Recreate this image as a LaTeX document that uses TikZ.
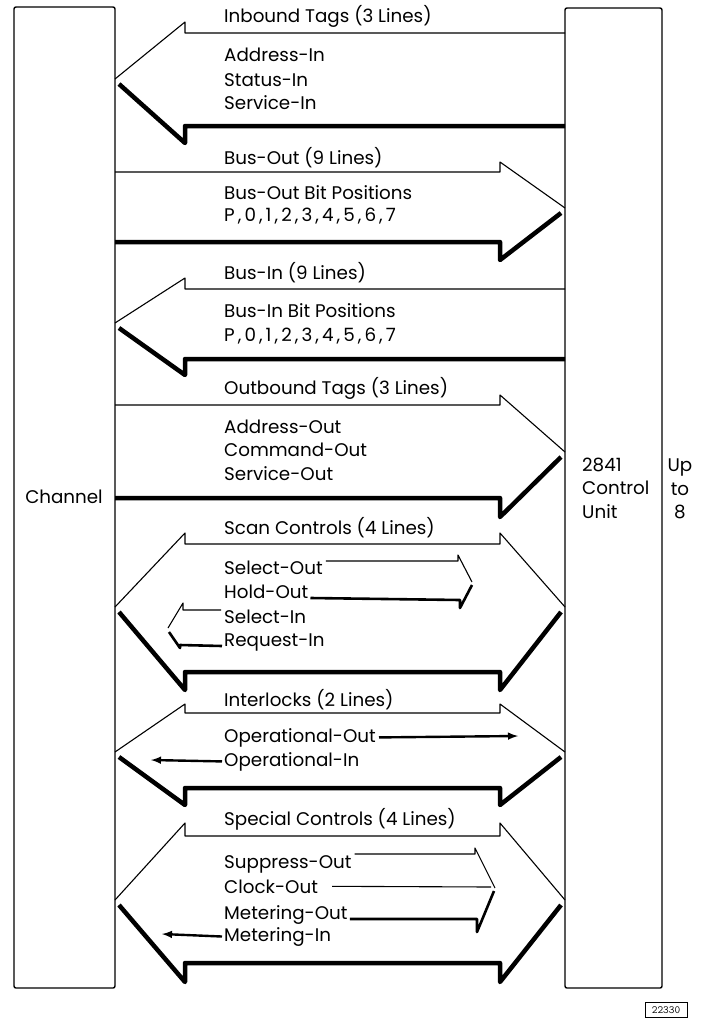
\documentclass[tikz,border=0pt]{standalone}
\usepackage{fontspec}
\setmainfont{Poppins}
\usepackage{tikz}
\usetikzlibrary{arrows}

\begin{document}
\begin{tikzpicture}[x=1pt, y=-1pt, font=\fontsize{18.3}{23.5}\selectfont,
  txt/.style={anchor=base west, inner sep=0pt},
  outline/.style={line width=1.1pt, line join=round},
  shadow/.style={line width=4.5pt, line join=round},
  inshadow/.style={line width=2.6pt, line join=round}]

\useasboundingbox (0,0) rectangle (703,1020);

\pgfmathsetmacro{\xL}{115}
\pgfmathsetmacro{\xLb}{185}
\pgfmathsetmacro{\xRb}{500}
\pgfmathsetmacro{\xR}{565}
\pgfmathsetmacro{\xT}{224}

% Draw channel and control unit boxes
\draw[line width=1.4pt, rounded corners=2pt] (14,7) rectangle (\xL,988);
\draw[line width=1.4pt, rounded corners=2pt] (\xR,8) rectangle (662,988);
\node[anchor=base] (chan) at (64,503) {Channel};
\node[anchor=west, align=left, inner sep=0pt] (cu) at (582,488) {2841\\Control\\Unit};
\node[align=center, inner sep=0pt] (upto) at (680,489) {Up\\to\\8};

% Inbound tags
\draw[outline] (\xR,33) -- (\xLb,33) -- (\xLb,22) -- (\xL,79);
\draw[shadow] (\xL+4,84) -- (\xLb,143) -- (\xLb,126) -- (\xR,126);
\node[txt] (inb) at (\xT,22) {Inbound Tags (3 Lines)};
\node[txt] (adrin) at (\xT,61) {Address-In};
\node[txt] (statin) at (\xT,86) {Status-In};
\node[txt] (servin) at (\xT,109) {Service-In};

% Bus-out
\draw[outline] (\xL,172) -- (\xRb,172) -- (\xRb,162) -- (\xR,208);
\draw[shadow] (\xR-4,213) -- (\xRb,260) -- (\xRb,242) -- (\xL,242);
\node[txt] (bout) at (\xT,164) {Bus-Out (9 Lines)};
\node[txt] (boutbits) at (\xT,199) {Bus-Out Bit Positions};
\node[txt] (boutpos) at (\xT,221) {P\,,\,0\,,\,1\,,\,2\,,\,3\,,\,4\,,\,5\,,\,6\,,\,7};

% Bus-in
\draw[outline] (\xR,289) -- (\xLb,289) -- (\xLb,278) -- (\xL,323);
\draw[shadow] (\xL+4,328) -- (\xLb,375) -- (\xLb,359) -- (\xR,359);
\node[txt] (bin) at (\xT,279) {Bus-In (9 Lines)};
\node[txt] (binbits) at (\xT,317) {Bus-In Bit Positions};
\node[txt] (binpos) at (\xT,341) {P\,,\,0\,,\,1\,,\,2\,,\,3\,,\,4\,,\,5\,,\,6\,,\,7};

% Outbound tags
\draw[outline] (\xL,405) -- (\xRb,405) -- (\xRb,395) -- (\xR,452);
\draw[shadow] (\xR-4,457) -- (\xRb,517) -- (\xRb,498) -- (\xL,498);
\node[txt] (outb) at (\xT,394) {Outbound Tags (3 Lines)};
\node[txt] (adrout) at (\xT,433) {Address-Out};
\node[txt] (cmdout) at (\xT,456) {Command-Out};
\node[txt] (servout) at (\xT,480) {Service-Out};

% Scan controls
\draw[outline] (\xL,607) -- (\xLb,533) -- (\xLb,544) -- (\xRb,544) -- (\xRb,533) -- (\xR,607);
\draw[shadow] (\xL+4,612) -- (\xLb,690) -- (\xLb,672) -- (\xRb,672) -- (\xRb,690) -- (\xR-4,612);
\node[txt] (scan) at (\xT,534) {Scan Controls (4 Lines)};
\node[txt] (sout) at (\xT,574) {Select-Out};
\node[txt] (hout) at (\xT,598) {Hold-Out};
\node[txt] (sin) at (\xT,623) {Select-In};
\node[txt] (rin) at (\xT,646) {Request-In};
\draw[outline] ([xshift=3pt]sout.east |- 0,561) -- (458,561) -- (458,555) -- (472,582);
\draw[inshadow] (472,585) -- (460,608) -- (460,600) -- ([xshift=2pt]hout.base east);
\draw[outline] ([xshift=-3pt]sin.west |- 0,610) -- (183,610) -- (183,603) -- (168,628);
\draw[inshadow] (169,632) -- (180,648) -- (180,645) -- ([xshift=-2pt]rin.base west);

% Interlocks
\draw[outline] (\xL,752) -- (\xLb,704) -- (\xLb,713) -- (\xRb,713) -- (\xRb,704) -- (\xR,752);
\draw[shadow] (\xL+4,757) -- (\xLb,805) -- (\xLb,788) -- (\xRb,788) -- (\xRb,805) -- (\xR-4,757);
\node[txt] (lock) at (\xT,706) {Interlocks (2 Lines)};
\node[txt] (opout) at (\xT,742) {Operational-Out};
\node[txt] (opin) at (\xT,766) {Operational-In};
\draw[->,>=latex, line width=2.4pt] ([xshift=3pt]opout.east) -- (518,736);
\draw[->,>=latex, line width=2.4pt] ([xshift=-2pt]opin.west) -- (151,760);

% Special controls
\draw[outline] (\xL,900) -- (\xLb,823) -- (\xLb,836) -- (\xRb,836) -- (\xRb,823) -- (\xR,900);
\draw[shadow] (\xL+4,905) -- (\xLb,982) -- (\xLb,963) -- (\xRb,963) -- (\xRb,982) -- (\xR-4,905);
\node[txt] (spec) at (\xT,825) {Special Controls (4 Lines)};
\node[txt] (supout) at (\xT,868) {Suppress-Out};
\node[txt] (clkout) at (\xT,893) {Clock-Out};
\node[txt] (metout) at (\xT,919) {Metering-Out};
\node[txt] (metin) at (\xT,941) {Metering-In};
\draw[outline] ([xshift=3pt]supout.east |- 0,854) -- (475,854) -- (475,848) -- (495,888);
\draw[outline] ([xshift=14pt]clkout.east) -- (491,887);
\draw[inshadow] (494,891) -- (477,932) -- (477,919) -- ([xshift=2pt]metout.base east);
\draw[->,>=latex, line width=2.4pt] ([xshift=-2pt]metin.west) -- (162,934);

\node[draw, line width=0.7pt, minimum width=42pt, minimum height=15pt, inner sep=1pt, font=\ttfamily\fontsize{11}{12}\selectfont] (fig) at (666,1010) {22330};

\end{tikzpicture}
\end{document}
